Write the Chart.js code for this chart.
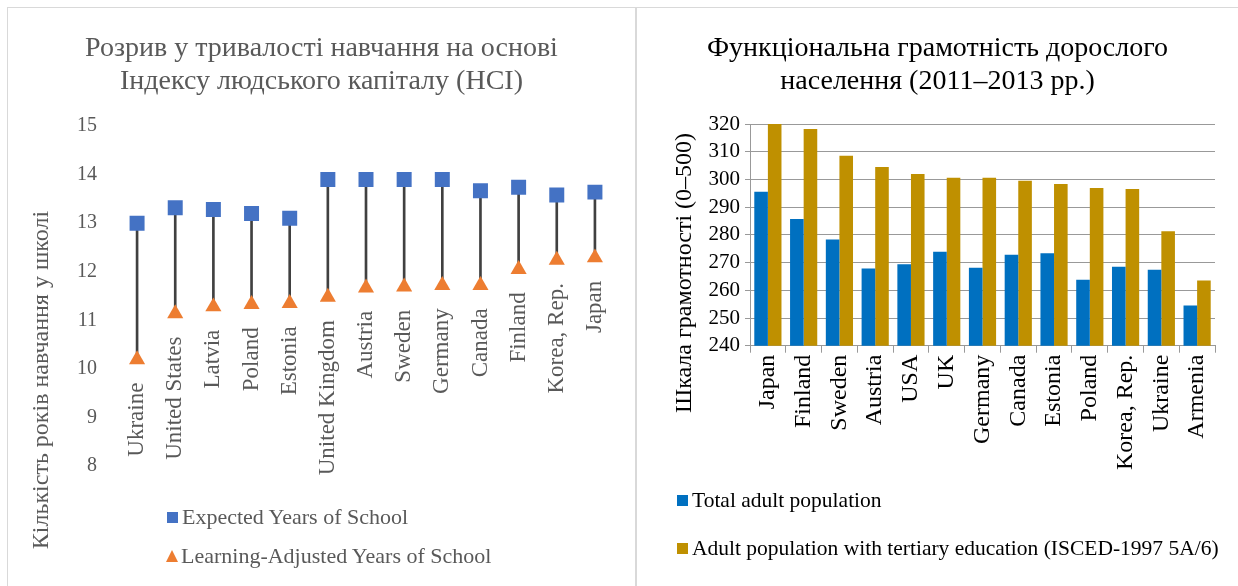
<!DOCTYPE html>
<html>
<head>
<meta charset="utf-8">
<script src="https://cdn.jsdelivr.net/npm/chart.js@4.4.1/dist/chart.umd.min.js"></script>
<style>
    body { margin: 0; background: #fff; width: 1238px; height: 586px; position: relative; overflow: hidden; font-family: 'Liberation Serif', serif; }
    .frame-top { position: absolute; left: 7px; top: 7px; width: 1231px; height: 0; border-top: 1px solid #d9d9d9; }
    .frame-left { position: absolute; left: 7px; top: 7px; width: 0; height: 579px; border-left: 1px solid #d9d9d9; }
    .frame-mid { position: absolute; left: 635px; top: 7px; width: 0; height: 579px; border-left: 2px solid #d9d9d9; }
    .chart-box { position: absolute; top: 8px; height: 578px; }
    #hciBox { left: 8px; width: 627px; }
    #piaacBox { left: 637px; width: 601px; }
    .legend-item { position: absolute; height: 26px; display: flex; align-items: center; white-space: nowrap; }
    .legend-item .sq { width: 11px; height: 11px; margin-right: 4px; }
    .legend-item .tri { width: 0; height: 0; border-left: 6px solid transparent; border-right: 6px solid transparent; border-bottom: 12px solid #ED7D31; margin-right: 3px; }
    .hci-legend { color: #595959; font-size: 22px; }
    .piaac-legend { color: #000; font-size: 21.5px; }
</style>
</head>
<body>
<div class="frame-top"></div>
<div class="frame-left"></div>
<div class="frame-mid"></div>

<div class="chart-box" id="hciBox"><canvas id="hciGapChart"></canvas></div>
<div class="chart-box" id="piaacBox"><canvas id="literacyChart"></canvas></div>

<div class="legend-item hci-legend" style="left:167px; top:504px;"><span class="sq" style="background:#4472C4"></span>Expected Years of School</div>
<div class="legend-item hci-legend" style="left:166px; top:543px;"><span class="tri"></span>Learning-Adjusted Years of School</div>

<div class="legend-item piaac-legend" style="left:677px; top:487px;"><span class="sq" style="background:#0070C0"></span>Total adult population</div>
<div class="legend-item piaac-legend" style="left:677px; top:535px;"><span class="sq" style="background:#BF9000"></span>Adult population with tertiary education (ISCED-1997 5A/6)</div>

<script>
const serif = 'Liberation Serif';

// HCI: expected vs learning-adjusted years of school
const hciCountries = ['Ukraine', 'United States', 'Latvia', 'Poland', 'Estonia', 'United Kingdom', 'Austria',
    'Sweden', 'Germany', 'Canada', 'Finland', 'Korea, Rep.', 'Japan'];
const expectedYears = [13.0, 13.32, 13.28, 13.2, 13.1, 13.9, 13.9, 13.9, 13.9, 13.67, 13.74, 13.58, 13.64];
const learningAdjustedYears = [10.19, 11.14, 11.28, 11.33, 11.35, 11.48, 11.67, 11.69, 11.72, 11.72, 12.05, 12.24, 12.29];

// PIAAC literacy scores, 2011-2013
const piaacCountries = ['Japan', 'Finland', 'Sweden', 'Austria', 'USA', 'UK', 'Germany', 'Canada', 'Estonia',
    'Poland', 'Korea, Rep.', 'Ukraine', 'Armenia'];
const totalAdultScores = [295.6, 285.7, 278.3, 267.9, 269.4, 273.9, 268.1, 272.8, 273.4, 263.8, 268.5, 267.4, 254.5];
const tertiaryScores = [320.0, 318.2, 308.6, 304.5, 302.0, 300.6, 300.6, 299.5, 298.4, 296.9, 296.6, 281.3, 263.5];

// rotated axis title drawn at a fixed spot of the canvas
const sideTitlePlugin = {
    id: 'sideTitle',
    afterDraw(chart, args, opts) {
        const ctx = chart.ctx;
        ctx.save();
        ctx.font = `${opts.size}px "${serif}"`;
        ctx.fillStyle = opts.color;
        ctx.textAlign = 'center';
        ctx.textBaseline = 'middle';
        ctx.translate(opts.x, opts.y);
        ctx.rotate(-Math.PI / 2);
        ctx.fillText(opts.text, 0, 0);
        ctx.restore();
    }
};

// country names hang under the learning-adjusted markers
const pointNamesPlugin = {
    id: 'pointNames',
    afterDatasetsDraw(chart, args, opts) {
        const meta = chart.getDatasetMeta(opts.datasetIndex);
        const ctx = chart.ctx;
        ctx.save();
        ctx.font = `${opts.size}px "${serif}"`;
        ctx.fillStyle = opts.color;
        ctx.textAlign = 'right';
        ctx.textBaseline = 'middle';
        meta.data.forEach((pt, i) => {
            ctx.save();
            ctx.translate(pt.x, pt.y + opts.gap);
            ctx.rotate(-Math.PI / 2);
            ctx.fillText(hciCountries[i], 0, 0);
            ctx.restore();
        });
        ctx.restore();
    }
};

let hciGapChart;
let literacyChart;

function renderHciGap() {
    const ctx = document.getElementById('hciGapChart').getContext('2d');
    hciGapChart = new Chart(ctx, {
        type: 'bar',
        data: {
            labels: hciCountries,
            datasets: [
                {
                    type: 'line',
                    label: 'Expected Years of School',
                    data: expectedYears,
                    showLine: false,
                    pointStyle: 'rect',
                    pointRadius: 10.6,
                    pointBackgroundColor: '#4472C4',
                    pointBorderWidth: 0,
                    order: 1
                },
                {
                    type: 'line',
                    label: 'Learning-Adjusted Years of School',
                    data: learningAdjustedYears,
                    showLine: false,
                    pointStyle: 'triangle',
                    pointRadius: 9.3,
                    pointBackgroundColor: '#ED7D31',
                    pointBorderWidth: 0,
                    order: 0
                },
                {
                    type: 'bar',
                    label: 'gap',
                    data: learningAdjustedYears.map((v, i) => [v, expectedYears[i]]),
                    backgroundColor: '#404040',
                    barThickness: 2,
                    order: 3
                }
            ]
        },
        options: {
            responsive: true,
            maintainAspectRatio: false,
            animation: false,
            layout: { padding: { left: 21, right: 21, top: 0, bottom: 120 } },
            scales: {
                x: { display: false },
                y: {
                    min: 8,
                    max: 15,
                    ticks: { stepSize: 1, color: '#595959', font: { family: serif, size: 20 }, padding: 21 },
                    grid: { display: false, drawTicks: false },
                    border: { display: false },
                    afterFit: (scale) => { scale.width = 89; }
                }
            },
            plugins: {
                legend: { display: false },
                tooltip: { enabled: false },
                title: {
                    display: true,
                    text: ['Розрив у тривалості навчання на основі', 'Індексу людського капіталу (HCI)'],
                    color: '#595959',
                    font: { family: serif, size: 28, weight: 'normal', lineHeight: 1.18 },
                    padding: { top: 24, bottom: 28 }
                },
                sideTitle: { text: 'Кількість років навчання у школі', x: 34, y: 372, size: 24, color: '#595959' },
                pointNames: { datasetIndex: 1, gap: 23, size: 23, color: '#595959' }
            }
        },
        plugins: [sideTitlePlugin, pointNamesPlugin]
    });
}

function renderLiteracy() {
    const ctx = document.getElementById('literacyChart').getContext('2d');
    literacyChart = new Chart(ctx, {
        type: 'bar',
        data: {
            labels: piaacCountries,
            datasets: [
                {
                    label: 'Total adult population',
                    data: totalAdultScores,
                    backgroundColor: '#0070C0',
                    categoryPercentage: 0.76,
                    barPercentage: 1.0
                },
                {
                    label: 'Adult population with tertiary education (ISCED-1997 5A/6)',
                    data: tertiaryScores,
                    backgroundColor: '#BF9000',
                    categoryPercentage: 0.76,
                    barPercentage: 1.0
                }
            ]
        },
        options: {
            responsive: true,
            maintainAspectRatio: false,
            animation: false,
            layout: { padding: { left: 23, right: 23, top: 0, bottom: 114 } },
            scales: {
                x: {
                    ticks: {
                        color: '#000',
                        font: { family: serif, size: 24 },
                        minRotation: 90,
                        maxRotation: 90,
                        autoSkip: false,
                        padding: 2
                    },
                    grid: { display: true, drawOnChartArea: false, offset: true, tickLength: 7, color: '#999' },
                    border: { display: true, color: '#999' }
                },
                y: {
                    min: 240,
                    max: 320,
                    ticks: { stepSize: 10, autoSkip: false, color: '#000', font: { family: serif, size: 21 }, padding: 5 },
                    grid: { color: '#999', tickLength: 5 },
                    border: { display: true, color: '#999' },
                    afterFit: (scale) => { scale.width = 90; }
                }
            },
            plugins: {
                legend: { display: false },
                tooltip: { enabled: false },
                title: {
                    display: true,
                    text: ['Функціональна грамотність дорослого', 'населення (2011–2013 рр.)'],
                    color: '#000',
                    font: { family: serif, size: 28, weight: 'normal', lineHeight: 1.18 },
                    padding: { top: 24, bottom: 26 }
                },
                sideTitle: { text: 'Шкала грамотності (0–500)', x: 48, y: 265, size: 24, color: '#000' }
            }
        },
        plugins: [sideTitlePlugin]
    });
}

document.addEventListener('DOMContentLoaded', () => {
    renderHciGap();
    renderLiteracy();
});
</script>
</body>
</html>
